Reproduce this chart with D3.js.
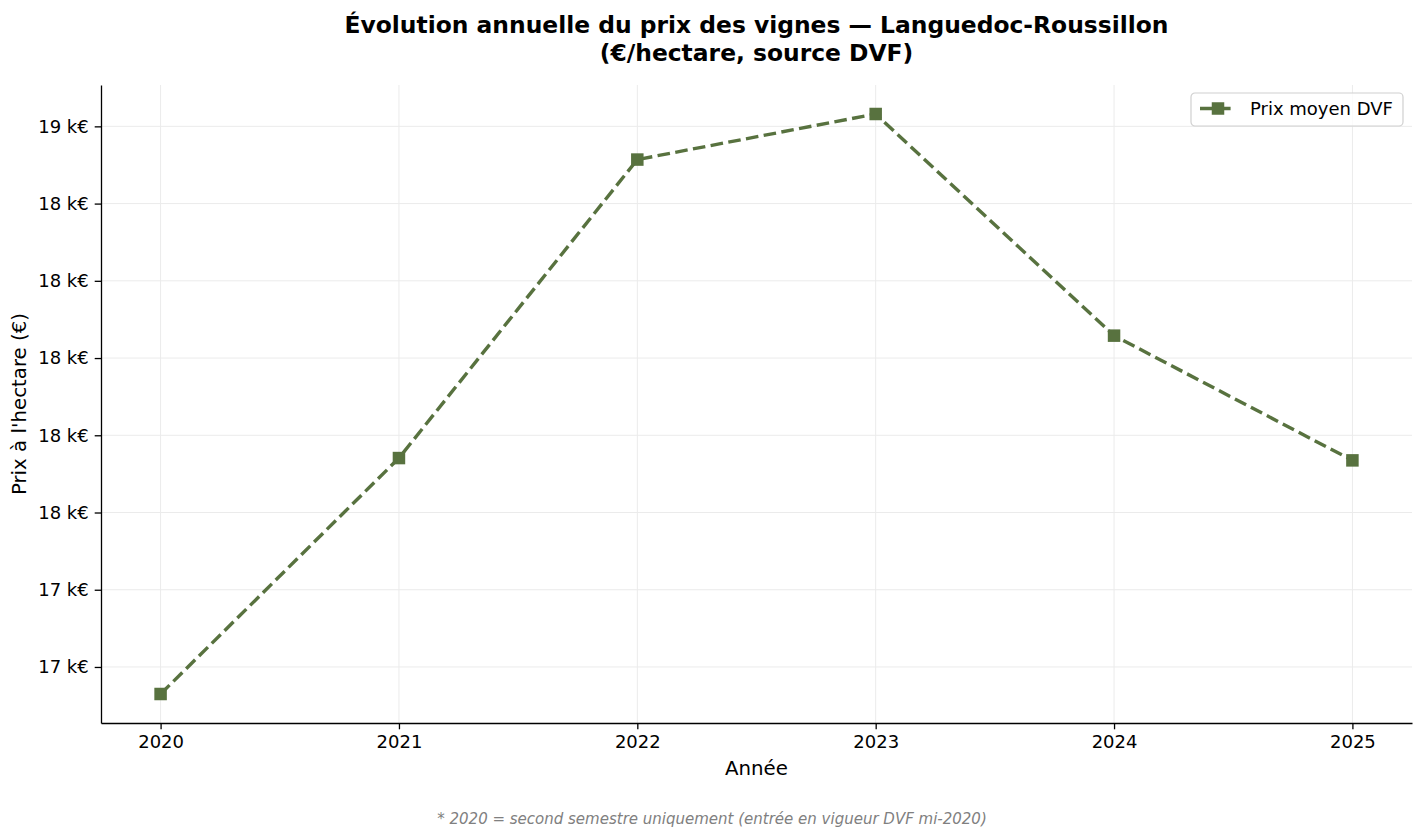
<!DOCTYPE html>
<html>
<head>
<meta charset="utf-8">
<script src="https://cdn.jsdelivr.net/npm/d3@7"></script>
<style>
  html, body { margin: 0; padding: 0; background: #fff; }
  #vis { width: 1424px; height: 838px; }
  text { font-family: 'DejaVu Sans', sans-serif; }
</style>
</head>
<body>
<div id="vis"><svg></svg></div>
<script>
const years = [2020, 2021, 2022, 2023, 2024, 2025]
const prices = [17130, 17741, 18514, 18632, 18058, 17735]
const yTicks = [17200, 17400, 17600, 17800, 18000, 18200, 18400, 18600]

const titleLines = [
  'Évolution annuelle du prix des vignes — Languedoc-Roussillon',
  '(€/hectare, source DVF)'
]
const seriesName = 'Prix moyen DVF'
const footnote = '* 2020 = second semestre uniquement (entrée en vigueur DVF mi-2020)'

const data = years.map((y, i) => ({ year: y, price: prices[i] }))

function draw() {
  const outerWidth = 1424
  const outerHeight = 838
  const margin = { left: 101, top: 85, right: 12, bottom: 115 }
  const innerWidth = outerWidth - margin.left - margin.right
  const innerHeight = outerHeight - margin.top - margin.bottom
  const color = '#58723f'

  const svg = d3.select('#vis svg')
    .attr('width', outerWidth)
    .attr('height', outerHeight)

  // matplotlib-like 5% margins
  const [x0, x1] = d3.extent(years)
  const [y0, y1] = d3.extent(prices)
  const xPad = (x1 - x0) * 0.05
  const yPad = (y1 - y0) * 0.05

  const xScale = d3.scaleLinear()
    .domain([x0 - xPad, x1 + xPad])
    .range([0, innerWidth])

  const yScale = d3.scaleLinear()
    .domain([y0 - yPad, y1 + yPad])
    .range([innerHeight, 0])

  const g = svg.append('g')
    .attr('transform', `translate(${margin.left},${margin.top})`)

  // grid
  g.append('g').selectAll('line').data(years).enter().append('line')
    .attr('x1', d => xScale(d)).attr('x2', d => xScale(d))
    .attr('y1', 0).attr('y2', innerHeight)
    .style('stroke', '#ebebeb').style('stroke-width', 1)
  g.append('g').selectAll('line').data(yTicks).enter().append('line')
    .attr('x1', 0).attr('x2', innerWidth)
    .attr('y1', d => yScale(d)).attr('y2', d => yScale(d))
    .style('stroke', '#ebebeb').style('stroke-width', 1)

  // axes
  const xAxis = d3.axisBottom(xScale)
    .tickValues(years)
    .tickFormat(d3.format('d'))
    .tickSizeInner(6.3).tickSizeOuter(0).tickPadding(6)
  const yAxis = d3.axisLeft(yScale)
    .tickValues(yTicks)
    .tickFormat(v => `${(v / 1000).toFixed(0)} k€`)
    .tickSizeInner(6.3).tickSizeOuter(0).tickPadding(6)

  const xAxisG = g.append('g')
    .attr('transform', `translate(0,${innerHeight})`)
    .call(xAxis)
  const yAxisG = g.append('g').call(yAxis)

  ;[xAxisG, yAxisG].forEach(a => {
    a.select('.domain').style('stroke', '#000').style('stroke-width', 1.3)
    a.selectAll('.tick line').style('stroke', '#000').style('stroke-width', 1.3)
    a.selectAll('.tick text')
      .style('font-family', "'DejaVu Sans', sans-serif")
      .style('font-size', '18px')
      .style('fill', '#000')
  })

  // line
  const line = d3.line()
    .x(d => xScale(d.year))
    .y(d => yScale(d.price))

  g.append('path')
    .datum(data)
    .attr('d', line)
    .style('fill', 'none')
    .style('stroke', color)
    .style('stroke-width', 3.4)
    .style('stroke-dasharray', '12.6 5.4')

  const ms = 12.5
  g.selectAll('rect.pt').data(data).enter().append('rect')
    .attr('class', 'pt')
    .attr('x', d => xScale(d.year) - ms / 2)
    .attr('y', d => yScale(d.price) - ms / 2)
    .attr('width', ms).attr('height', ms)
    .style('fill', color)

  // axis labels
  g.append('text')
    .attr('x', innerWidth / 2)
    .attr('y', innerHeight + 52)
    .style('text-anchor', 'middle')
    .style('font-size', '19.8px')
    .style('fill', '#000')
    .text('Année')

  g.append('text')
    .attr('transform', `translate(${-75},${innerHeight / 2}) rotate(-90)`)
    .style('text-anchor', 'middle')
    .style('font-size', '19.8px')
    .style('fill', '#000')
    .text("Prix à l'hectare (€)")

  // title
  titleLines.forEach((t, i) => {
    svg.append('text')
      .attr('x', margin.left + innerWidth / 2)
      .attr('y', 33 + i * 28)
      .style('text-anchor', 'middle')
      .style('font-size', '23.4px')
      .style('font-weight', 'bold')
      .style('fill', '#000')
      .text(t)
  })

  // legend
  const lg = g.append('g')
    .attr('transform', `translate(${innerWidth - 221},8)`)
  lg.append('rect')
    .attr('width', 212).attr('height', 33)
    .attr('rx', 4).attr('ry', 4)
    .style('fill', '#fff').style('fill-opacity', 0.8)
    .style('stroke', '#d0d0d0').style('stroke-width', 1.2)
  lg.append('line')
    .attr('x1', 9).attr('x2', 45)
    .attr('y1', 15.5).attr('y2', 15.5)
    .style('stroke', color).style('stroke-width', 3.4)
    .style('stroke-dasharray', '12.6 5.4')
  lg.append('rect')
    .attr('x', 27 - ms / 2).attr('y', 15.5 - ms / 2)
    .attr('width', ms).attr('height', ms)
    .style('fill', color)
  lg.append('text')
    .attr('x', 59).attr('y', 22)
    .style('font-size', '18px')
    .style('fill', '#000')
    .text(seriesName)

  // footnote
  svg.append('text')
    .attr('x', outerWidth / 2)
    .attr('y', 824)
    .style('text-anchor', 'middle')
    .style('font-size', '15px')
    .style('font-style', 'italic')
    .style('fill', '#808080')
    .text(footnote)
}

draw()
</script>
</body>
</html>
